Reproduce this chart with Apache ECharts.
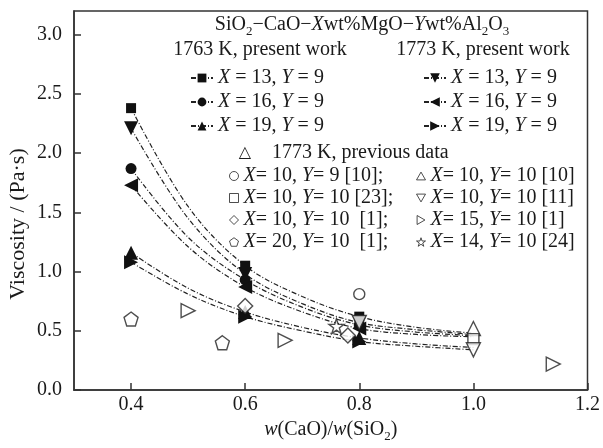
<!DOCTYPE html>
<html><head><meta charset="utf-8">
<script src="https://cdn.jsdelivr.net/npm/echarts@6/dist/echarts.min.js"></script>
<style>html,body{margin:0;padding:0;background:#fff}#c{width:603px;height:448px}</style>
</head><body><div id="c"></div>
<script>
const FONT = '"Liberation Serif", "Times New Roman", serif';
// tick labels
const xTicks = [0.4, 0.6, 0.8, 1.0, 1.2];
const yTicks = [0, 0.5, 1.0, 1.5, 2.0, 2.5, 3.0];
// w(CaO)/w(SiO2) positions read along the fitted curves, and where measured points sit
const ratioCurve = [0.4, 0.5, 0.6, 0.7, 0.8, 0.9, 1.0];
const ratioPW = [0.4, 0.6, 0.8];
// 1763 K, present work: viscosity (Pa·s) along each curve (measured points at 0.4/0.6/0.8)
const pw1763_X13 = [2.38, 1.55, 1.05, 0.79, 0.62, 0.53, 0.48];
const pw1763_X16 = [1.87, 1.29, 0.93, 0.70, 0.55, 0.49, 0.46];
const pw1763_X19 = [1.16, 0.86, 0.66, 0.53, 0.44, 0.39, 0.36];
// 1773 K, present work
const pw1773_X13 = [2.21, 1.45, 0.98, 0.73, 0.57, 0.51, 0.47];
const pw1773_X16 = [1.73, 1.21, 0.87, 0.66, 0.52, 0.47, 0.45];
const pw1773_X19 = [1.08, 0.81, 0.62, 0.50, 0.41, 0.37, 0.34];
// previous data, 1773 K: [ratio, viscosity]
const prev_X10Y9_10  = [[0.80, 0.81]];
const prev_X10Y10_10 = [[1.00, 0.52]];
const prev_X10Y10_23 = [[1.00, 0.43]];
const prev_X10Y10_11 = [[1.00, 0.34], [0.80, 0.57]];
const prev_X10Y10_1  = [[0.60, 0.71], [0.78, 0.46]];
const prev_X15Y10_1  = [[0.50, 0.67], [0.67, 0.42], [1.14, 0.22]];
const prev_X20Y10_1  = [[0.40, 0.60], [0.56, 0.40]];
const prev_X14Y10_24 = [[0.76, 0.54]];

const PENT = 'path://M0,-1 L0.951,-0.309 L0.588,0.809 L-0.588,0.809 L-0.951,-0.309 Z';
const STAR = 'path://M0,-1 L0.2245,-0.309 L0.951,-0.309 L0.363,0.118 L0.588,0.809 L0,0.382 L-0.588,0.809 L-0.363,0.118 L-0.951,-0.309 L-0.2245,-0.309 Z';
const TRI_DOWN = 'path://M0,0 L2,0 L1,1.732 Z';
const TRI_RIGHT = 'path://M0,0 L1.732,1 L0,2 Z';
const TRI_LEFT = 'path://M1.732,0 L0,1 L1.732,2 Z';
const TRI_UP = 'path://M1,0 L2,1.732 L0,1.732 Z';

const labels = {
  'a13': '{i|X} = 13, {i|Y} = 9', 'a16': '{i|X} = 16, {i|Y} = 9', 'a19': '{i|X} = 19, {i|Y} = 9',
  'b13': '{i|X} = 13, {i|Y} = 9', 'b16': '{i|X} = 16, {i|Y} = 9', 'b19': '{i|X} = 19, {i|Y} = 9',
  'p1': '{i|X}= 10, {i|Y}= 9 [10];', 'p2': '{i|X}= 10, {i|Y}= 10 [10]',
  'p3': '{i|X}= 10, {i|Y}= 10 [23];', 'p4': '{i|X}= 10, {i|Y}= 10 [11]',
  'p5': '{i|X}= 10, {i|Y}= 10  [1];', 'p6': '{i|X}= 15, {i|Y}= 10 [1]',
  'p7': '{i|X}= 20, {i|Y}= 10  [1];', 'p8': '{i|X}= 14, {i|Y}= 10 [24]'
};

const DASH = [5, 2, 1, 2];
function pwSeries(name, vals, symbol, size) {
  const data = ratioCurve.map((x, i) =>
    ratioPW.includes(x) ? [x, vals[i]] : { value: [x, vals[i]], symbol: 'none' });
  return {
    name, type: 'line', data, smooth: 0.35,
    symbol, symbolSize: size, showSymbol: true,
    itemStyle: { color: '#111' },
    lineStyle: { color: '#222', width: 1.2, type: DASH },
    z: 3
  };
}
function prevSeries(name, data, symbol, size) {
  return {
    name, type: 'scatter', data, symbol, symbolSize: size,
    itemStyle: { color: '#fff', borderColor: '#222', borderWidth: 1.4 }, z: 4
  };
}

const series = [
  pwSeries('a13', pw1763_X13, 'rect', 10),
  pwSeries('a16', pw1763_X16, 'circle', 11),
  pwSeries('a19', pw1763_X19, TRI_UP, 14),
  pwSeries('b13', pw1773_X13, TRI_DOWN, 14),
  pwSeries('b16', pw1773_X16, TRI_LEFT, 14),
  pwSeries('b19', pw1773_X19, TRI_RIGHT, 14),
  prevSeries('p1', prev_X10Y9_10, 'circle', 11),
  prevSeries('p2', prev_X10Y10_10, TRI_UP, 14),
  prevSeries('p3', prev_X10Y10_23, 'rect', 11),
  prevSeries('p4', prev_X10Y10_11, TRI_DOWN, 14),
  prevSeries('p5', prev_X10Y10_1, 'diamond', 15),
  prevSeries('p6', prev_X15Y10_1, TRI_RIGHT, 14),
  prevSeries('p7', prev_X20Y10_1, PENT, 14),
  prevSeries('p8', prev_X14Y10_24, STAR, 15)
];

const txt = { fontFamily: FONT, fontSize: 20, color: '#1a1a1a' };
const rich = { i: { fontFamily: FONT, fontSize: 20, fontStyle: 'italic', color: '#1a1a1a' } };
function legendBlock(left, top, data, gap, w, h, extra) {
  return Object.assign({
    left, top, orient: 'vertical', data, itemGap: gap, itemWidth: w, itemHeight: h,
    selectedMode: false, padding: 0,
    formatter: n => labels[n],
    textStyle: Object.assign({}, txt, { rich })
  }, extra || {});
}

const chart = echarts.init(document.getElementById('c'));
chart.setOption({
  backgroundColor: '#fff',
  animation: false,
  grid: { left: 74, right: 13, top: 11, bottom: 53, show: true, borderColor: '#333', borderWidth: 1.5 },
  xAxis: {
    type: 'value', min: 0.3, max: 1.2,
    axisLine: { show: true, lineStyle: { color: '#333', width: 1.5 } },
    axisTick: { show: true, inside: true, length: 7, customValues: xTicks, lineStyle: { color: '#333', width: 1.5 } },
    axisLabel: { customValues: xTicks, formatter: v => v.toFixed(1), margin: 5, ...txt },
    splitLine: { show: false },
    name: '{i|w}(CaO)/{i|w}(SiO{s|2})', nameLocation: 'middle', nameGap: 25,
    nameTextStyle: Object.assign({}, txt, { rich: { i: rich.i, s: { fontFamily: FONT, fontSize: 13, color: '#1a1a1a', lineHeight: 13, padding: [10, 0, 0, 0], verticalAlign: 'top' } } })
  },
  yAxis: {
    type: 'value', min: 0, max: 3.2,
    axisLine: { show: true, lineStyle: { color: '#333', width: 1.5 } },
    axisTick: { show: true, inside: true, length: 7, customValues: yTicks, lineStyle: { color: '#333', width: 1.5 } },
    axisLabel: { customValues: yTicks, formatter: v => v.toFixed(1), margin: 12, ...txt },
    splitLine: { show: false }
  },
  legend: [
    legendBlock(190, 68, ['a13', 'a16', 'a19'], 4, 22, 11),
    legendBlock(423, 68, ['b13', 'b16', 'b19'], 4, 22, 12),
    legendBlock(229, 166, ['p1', 'p3', 'p5', 'p7'], 2, 9, 9, { itemStyle: { borderWidth: 1 } }),
    legendBlock(416, 166, ['p2', 'p4', 'p6', 'p8'], 2, 9, 9, { itemStyle: { borderWidth: 1 } })
  ],
  graphic: [
    { type: 'text', x: 18, y: 224, rotation: Math.PI / 2, style: {
      text: 'Viscosity / (Pa·s)', align: 'center', verticalAlign: 'middle', font: '22px ' + FONT, fill: '#1a1a1a' } },
    { type: 'text', x: 362, y: 25, style: {
      text: 'SiO{s|2}−CaO−{i|X}wt%MgO−{i|Y}wt%Al{s|2}O{s|3}',
      align: 'center', verticalAlign: 'middle', font: '20px ' + FONT, fill: '#1a1a1a',
      rich: { i: { fontFamily: FONT, fontSize: 20, fontStyle: 'italic' }, s: { fontFamily: FONT, fontSize: 13, lineHeight: 13, padding: [10, 0, 0, 0], verticalAlign: 'top' } }
    } },
    { type: 'text', x: 260, y: 50, style: { text: '1763 K, present work', align: 'center', verticalAlign: 'middle', font: '20px ' + FONT, fill: '#1a1a1a' } },
    { type: 'text', x: 483, y: 50, style: { text: '1773 K, present work', align: 'center', verticalAlign: 'middle', font: '20px ' + FONT, fill: '#1a1a1a' } },
    { type: 'text', x: 245, y: 153, style: { text: '△', align: 'center', verticalAlign: 'middle', font: '16px "DejaVu Sans"', fill: '#1a1a1a' } },
    { type: 'text', x: 272, y: 153, style: { text: '1773 K, previous data', align: 'left', verticalAlign: 'middle', font: '20px ' + FONT, fill: '#1a1a1a' } }
  ],
  series
});
</script></body></html>
